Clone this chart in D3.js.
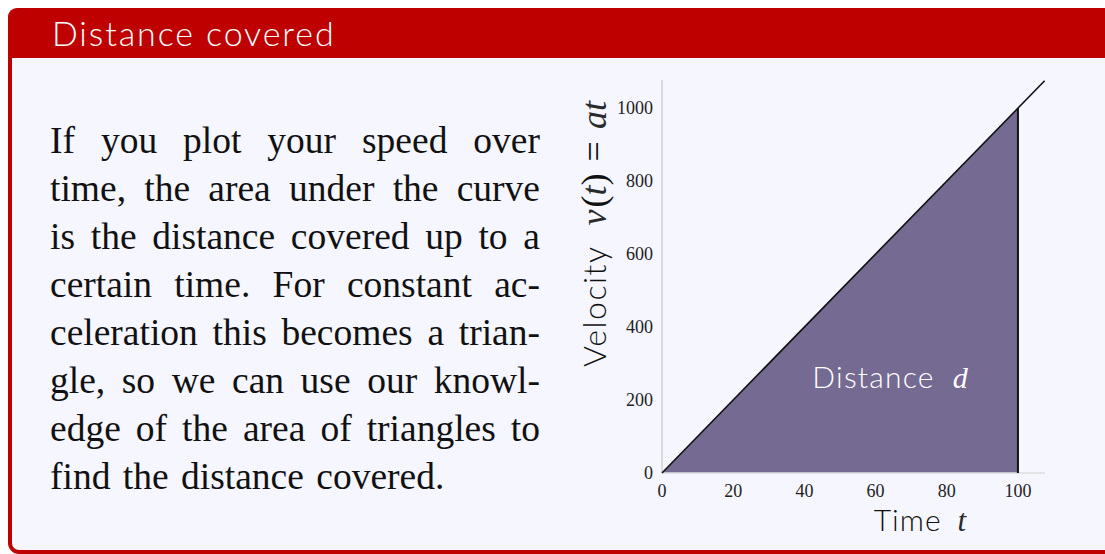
<!DOCTYPE html>
<html><head><meta charset="utf-8">
<script src="https://cdn.jsdelivr.net/npm/d3@7"></script>
<style>
html,body{margin:0;padding:0;background:#fff;}
svg{display:block;}
</style></head>
<body>
<svg id="c" width="1105" height="554"></svg>
<script>
const title = "Distance covered";
const paragraphLines = [
  "If you plot your speed over",
  "time, the area under the curve",
  "is the distance covered up to a",
  "certain time.  For constant ac-",
  "celeration this becomes a trian-",
  "gle, so we can use our knowl-",
  "edge of the area of triangles to",
  "find the distance covered."
];
const xTicks = [0, 20, 40, 60, 80, 100];
const yTicks = [0, 200, 400, 600, 800, 1000];
const lineT = [0, 107.5];
const lineV = [0, 1075];
const areaT = [0, 100];
const areaV = [0, 1000];
const xDomain = [0, 107.6];
const yDomain = [0, 1077];

const svg = d3.select("#c");
const red = "#BF0000";

// frame
svg.append("rect").attr("x", 10).attr("y", 10).attr("width", 1120).attr("height", 542)
  .attr("rx", 9).attr("fill", "#F5F6FF").attr("stroke", red).attr("stroke-width", 4);
svg.append("path").attr("d", "M8,58 L8,18 Q8,8 18,8 L1105,8 L1105,58 Z").attr("fill", red);
svg.append("text").attr("x", 52).attr("y", 46).attr("fill", "#fff")
  .attr("font-family", "Lato, 'Open Sans', sans-serif").attr("font-weight", 300)
  .attr("font-size", 34).attr("letter-spacing", 1.9).text(title);

// paragraph (justified)
const font = "'Liberation Serif', 'DejaVu Serif', serif";
const fs = 37.5;
const left = 50, right = 540;
paragraphLines.forEach((line, i) => {
  const y = 153 + i * 48;
  const words = line.split(/\s+/);
  const g = svg.append("g");
  const nodes = words.map(w => g.append("text").attr("y", y).attr("font-family", font)
    .attr("font-size", fs).attr("fill", "#111").text(w));
  const widths = nodes.map(n => n.node().getComputedTextLength());
  const total = d3.sum(widths);
  const last = i === paragraphLines.length - 1;
  const gap = last ? fs * 0.33 : (right - left - total) / (words.length - 1);
  let x = left;
  nodes.forEach((n, k) => { n.attr("x", x); x += widths[k] + gap; });
});

// chart
const x = d3.scaleLinear().domain(xDomain).range([662, 1045]);
const y = d3.scaleLinear().domain(yDomain).range([473, 80]);
const x0 = x(0), y0 = y(0);

const areaData = areaT.map((t, i) => ({t, v: areaV[i]}));
svg.append("path")
  .datum(areaData)
  .attr("d", d3.area().x(d => x(d.t)).y0(y0).y1(d => y(d.v)))
  .attr("fill", "#756A92");

// axes
svg.append("line").attr("x1", x0).attr("x2", x0).attr("y1", y(yDomain[1])).attr("y2", y0)
  .attr("stroke", "#bbb").attr("stroke-width", 1);
svg.append("line").attr("x1", x0).attr("x2", x(xDomain[1])).attr("y1", y0).attr("y2", y0)
  .attr("stroke", "#ddd").attr("stroke-width", 1.5);

const lineData = lineT.map((t, i) => ({t, v: lineV[i]}));
svg.append("path").datum(lineData)
  .attr("d", d3.line().x(d => x(d.t)).y(d => y(d.v)))
  .attr("fill", "none").attr("stroke", "#111").attr("stroke-width", 1.6);
svg.append("line").attr("x1", x(100)).attr("x2", x(100)).attr("y1", y(1000)).attr("y2", y0)
  .attr("stroke", "#111").attr("stroke-width", 2);

const tickFont = "'Liberation Serif', serif";
svg.append("g").selectAll("text").data(yTicks).join("text")
  .attr("x", 653).attr("y", d => y(d)).attr("dy", "0.35em")
  .attr("text-anchor", "end").attr("font-family", tickFont).attr("font-size", 18)
  .attr("fill", "#222").text(d => d);
svg.append("g").selectAll("text").data(xTicks).join("text")
  .attr("x", d => x(d)).attr("y", 491).attr("dy", "0.35em")
  .attr("text-anchor", "middle").attr("font-family", tickFont).attr("font-size", 18)
  .attr("fill", "#222").text(d => d);

// axis titles
const sans = "Lato, 'Open Sans', sans-serif";
const mathFill = "#2a2a2a";
const yt = svg.append("text").attr("transform", "translate(606,234) rotate(-90)")
  .attr("text-anchor", "middle").attr("fill", "#111");
yt.append("tspan").attr("font-family", sans).attr("font-weight", 300).attr("font-size", 32).attr("letter-spacing", 1.5).text("Velocity");
yt.append("tspan").attr("font-family", font).attr("font-size", 36).attr("dx", 20).attr("font-style", "italic").attr("fill", mathFill).text("v");
yt.append("tspan").attr("font-family", font).attr("font-size", 36).attr("dx", 2).text("(");
yt.append("tspan").attr("font-family", font).attr("font-size", 36).attr("font-style", "italic").attr("fill", mathFill).text("t");
yt.append("tspan").attr("font-family", font).attr("font-size", 36).text(")");
yt.append("tspan").attr("font-family", font).attr("font-size", 36).attr("dx", 12).text("=");
yt.append("tspan").attr("font-family", font).attr("font-size", 36).attr("dx", 12).attr("font-style", "italic").attr("fill", mathFill).text("at");

const xt = svg.append("text").attr("x", 920).attr("y", 531).attr("text-anchor", "middle").attr("fill", "#111");
xt.append("tspan").attr("font-family", sans).attr("font-weight", 300).attr("font-size", 30).attr("letter-spacing", 1).text("Time");
xt.append("tspan").attr("font-family", font).attr("font-size", 31).attr("dx", 16).attr("font-style", "italic").attr("fill", mathFill).text("t");

const dl = svg.append("text").attr("x", 890).attr("y", 388).attr("text-anchor", "middle").attr("fill", "#fff");
dl.append("tspan").attr("font-family", sans).attr("font-weight", 300).attr("font-size", 30).attr("letter-spacing", 1.2).text("Distance");
dl.append("tspan").attr("font-family", font).attr("font-size", 30).attr("dx", 18).attr("font-style", "italic").text("d");
</script>
</body></html>
